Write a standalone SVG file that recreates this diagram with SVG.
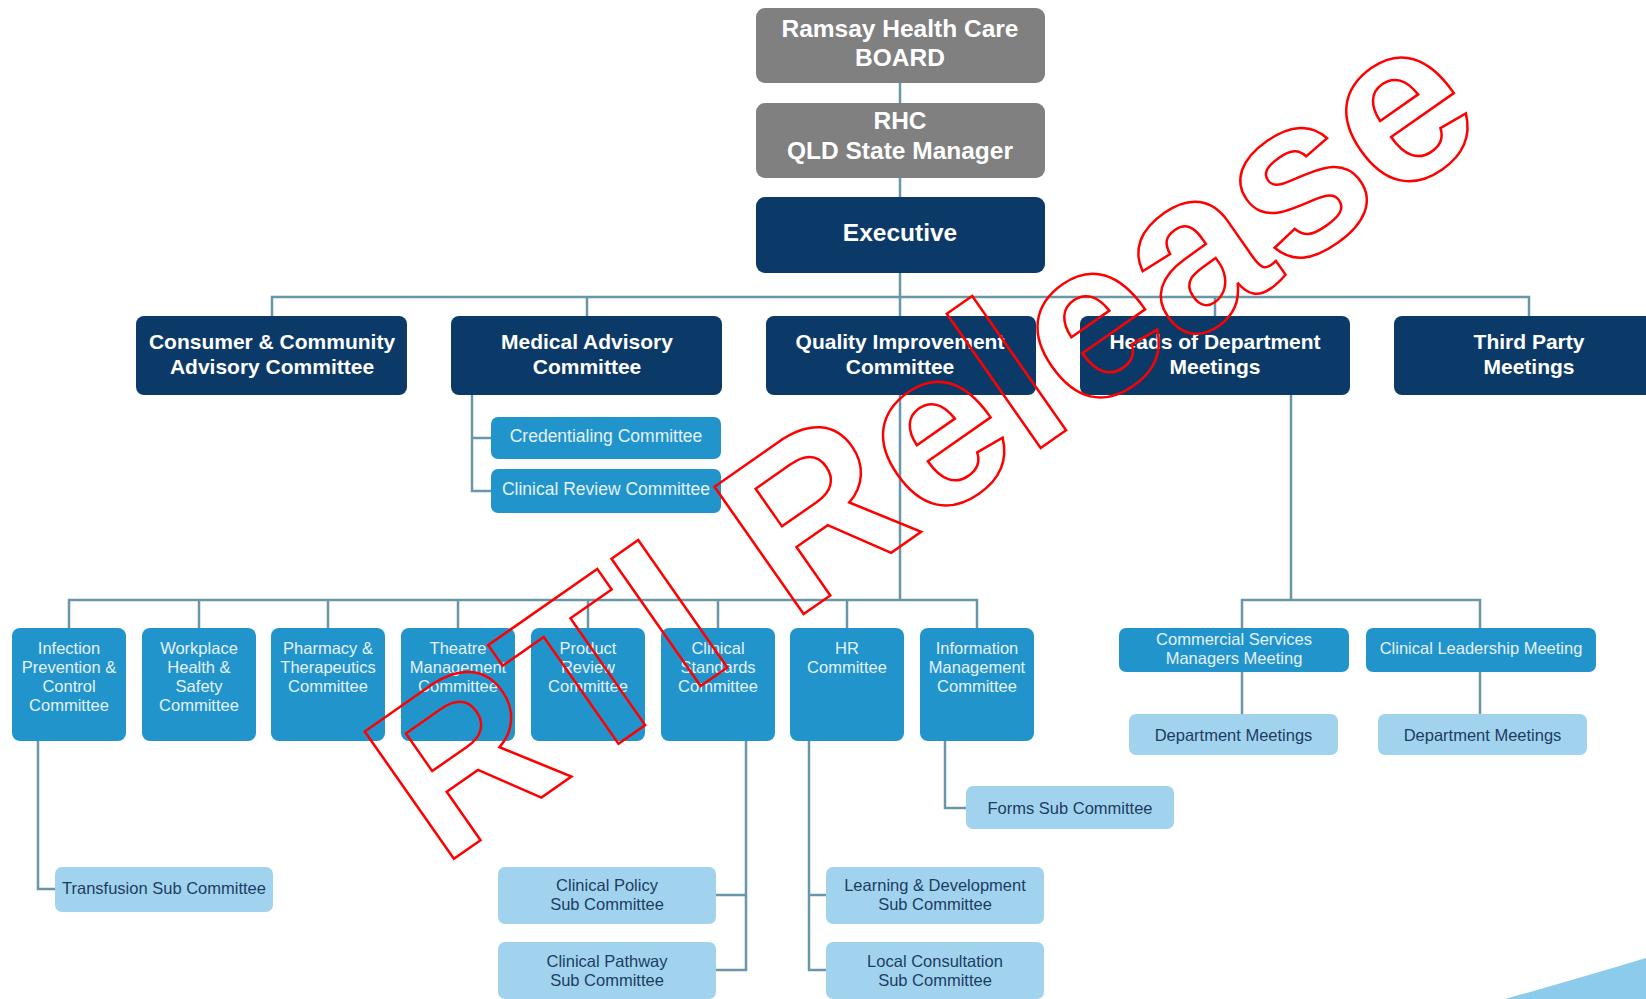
<svg xmlns="http://www.w3.org/2000/svg" width="1646" height="999" viewBox="0 0 1646 999">
<style>
.grey{fill:#808080}
.navy{fill:#0c3a68}
.mid{fill:#2294cc}
.light{fill:#a2d3ee}
.tw{font-family:"Liberation Sans",Arial,sans-serif;font-weight:bold;fill:#ffffff;text-anchor:middle}
.t1{font-size:24.5px}
.t2{font-size:21px}
.t3{font-family:"Liberation Sans",Arial,sans-serif;font-size:16.5px;fill:#e3f2fb;text-anchor:middle}
.t3b{font-family:"Liberation Sans",Arial,sans-serif;font-size:17.5px;fill:#e3f2fb;text-anchor:middle}
.t4{font-family:"Liberation Sans",Arial,sans-serif;font-size:16.5px;fill:#1c3d63;text-anchor:middle}
.conn{fill:none;stroke:#6797a8;stroke-width:2.5}
.wm{font-family:"Liberation Sans",Arial,sans-serif;font-weight:bold;font-size:226px;fill:none;stroke:#ff0000;stroke-width:2.5}
</style>
<rect width="1646" height="999" fill="#ffffff"/>
<path d="M1505,999 Q1580,978 1646,958 L1646,999 Z" fill="#8ccbec"/>

<g id="connectors" class="conn">
<path d="M900,83 V103 M900,178 V197 M900,273 V297"/>
<path d="M272,316 V297 H1529 V316 M587,297 V316 M900,297 V316 M1215,297 V316"/>
<path d="M472,395 V491 H491 M472,438 H491"/>
<path d="M900,395 V600"/>
<path d="M69,628 V600 H977 V628 M199,600 V628 M328,600 V628 M458,600 V628 M588,600 V628 M718,600 V628 M847,600 V628"/>
<path d="M1291,395 V600 M1242,628 V600 H1480 V628"/>
<path d="M1242,672 V714 M1480,672 V714"/>
<path d="M38,741 V889 H55"/>
<path d="M746,741 V970 H716 M746,895 H716"/>
<path d="M809,741 V970 H826 M809,895 H826"/>
<path d="M945,741 V808 H966"/>
</g>

<g id="board"><rect class="grey" x="756" y="8" width="289" height="75" rx="9"/>
<text class="tw t1" x="900" y="37">Ramsay Health Care</text><text class="tw t1" x="900" y="66">BOARD</text></g>
<g id="state-manager"><rect class="grey" x="756" y="103" width="289" height="75" rx="9"/>
<text class="tw t1" x="900" y="129">RHC</text><text class="tw t1" x="900" y="158.5">QLD State Manager</text></g>
<g id="executive"><rect class="navy" x="756" y="197" width="289" height="76" rx="9"/>
<text class="tw t1" x="900" y="241">Executive</text></g>

<g id="consumer"><rect class="navy" x="136" y="316" width="271" height="79" rx="8"/>
<text class="tw t2" x="272" y="349">Consumer &amp; Community</text><text class="tw t2" x="272" y="374">Advisory Committee</text></g>
<g id="medical"><rect class="navy" x="451" y="316" width="271" height="79" rx="8"/>
<text class="tw t2" x="587" y="349">Medical Advisory</text><text class="tw t2" x="587" y="374">Committee</text></g>
<g id="quality"><rect class="navy" x="766" y="316" width="270" height="79" rx="8"/>
<text class="tw t2" x="900" y="349">Quality Improvement</text><text class="tw t2" x="900" y="374">Committee</text></g>
<g id="heads"><rect class="navy" x="1080" y="316" width="270" height="79" rx="8"/>
<text class="tw t2" x="1215" y="349">Heads of Department</text><text class="tw t2" x="1215" y="374">Meetings</text></g>
<g id="third-party"><rect class="navy" x="1394" y="316" width="270" height="79" rx="8"/>
<text class="tw t2" x="1529" y="349">Third Party</text><text class="tw t2" x="1529" y="374">Meetings</text></g>

<g id="credentialing"><rect class="mid" x="491" y="417" width="230" height="42" rx="7"/>
<text class="t3b" x="606" y="442">Credentialing Committee</text></g>
<g id="clinical-review"><rect class="mid" x="491" y="469" width="230" height="44" rx="7"/>
<text class="t3b" x="606" y="495">Clinical Review Committee</text></g>

<g id="infection"><rect class="mid" x="12" y="628" width="114" height="113" rx="8"/>
<text class="t3" x="69" y="654">Infection</text><text class="t3" x="69" y="673">Prevention &amp;</text><text class="t3" x="69" y="691.5">Control</text><text class="t3" x="69" y="710.5">Committee</text></g>
<g id="workplace"><rect class="mid" x="142" y="628" width="114" height="113" rx="8"/>
<text class="t3" x="199" y="654">Workplace</text><text class="t3" x="199" y="673">Health &amp;</text><text class="t3" x="199" y="691.5">Safety</text><text class="t3" x="199" y="710.5">Committee</text></g>
<g id="pharmacy"><rect class="mid" x="271" y="628" width="114" height="113" rx="8"/>
<text class="t3" x="328" y="654">Pharmacy &amp;</text><text class="t3" x="328" y="673">Therapeutics</text><text class="t3" x="328" y="691.5">Committee</text></g>
<g id="theatre"><rect class="mid" x="401" y="628" width="114" height="113" rx="8"/>
<text class="t3" x="458" y="654">Theatre</text><text class="t3" x="458" y="673">Management</text><text class="t3" x="458" y="691.5">Committee</text></g>
<g id="product"><rect class="mid" x="531" y="628" width="114" height="113" rx="8"/>
<text class="t3" x="588" y="654">Product</text><text class="t3" x="588" y="673">Review</text><text class="t3" x="588" y="691.5">Committee</text></g>
<g id="clinical-standards"><rect class="mid" x="661" y="628" width="114" height="113" rx="8"/>
<text class="t3" x="718" y="654">Clinical</text><text class="t3" x="718" y="673">Standards</text><text class="t3" x="718" y="691.5">Committee</text></g>
<g id="hr"><rect class="mid" x="790" y="628" width="114" height="113" rx="8"/>
<text class="t3" x="847" y="654">HR</text><text class="t3" x="847" y="673">Committee</text></g>
<g id="information"><rect class="mid" x="920" y="628" width="114" height="113" rx="8"/>
<text class="t3" x="977" y="654">Information</text><text class="t3" x="977" y="673">Management</text><text class="t3" x="977" y="691.5">Committee</text></g>

<g id="commercial"><rect class="mid" x="1119" y="628" width="230" height="44" rx="7"/>
<text class="t3" x="1234" y="645">Commercial Services</text><text class="t3" x="1234" y="664">Managers Meeting</text></g>
<g id="clinical-leadership"><rect class="mid" x="1366" y="628" width="230" height="44" rx="7"/>
<text class="t3" x="1481" y="654">Clinical Leadership Meeting</text></g>
<g id="dept-meetings-1"><rect class="light" x="1129" y="714" width="209" height="41" rx="7"/>
<text class="t4" x="1233.5" y="741">Department Meetings</text></g>
<g id="dept-meetings-2"><rect class="light" x="1378" y="714" width="209" height="41" rx="7"/>
<text class="t4" x="1482.5" y="741">Department Meetings</text></g>

<g id="forms"><rect class="light" x="966" y="786" width="208" height="43" rx="7"/>
<text class="t4" x="1070" y="814">Forms Sub Committee</text></g>
<g id="transfusion"><rect class="light" x="55" y="867" width="218" height="45" rx="7"/>
<text class="t4" x="164" y="894">Transfusion Sub Committee</text></g>
<g id="clinical-policy"><rect class="light" x="498" y="867" width="218" height="57" rx="7"/>
<text class="t4" x="607" y="891">Clinical Policy</text><text class="t4" x="607" y="910">Sub Committee</text></g>
<g id="clinical-pathway"><rect class="light" x="498" y="942" width="218" height="57" rx="7"/>
<text class="t4" x="607" y="966.5">Clinical Pathway</text><text class="t4" x="607" y="986">Sub Committee</text></g>
<g id="learning"><rect class="light" x="826" y="867" width="218" height="57" rx="7"/>
<text class="t4" x="935" y="891">Learning &amp; Development</text><text class="t4" x="935" y="910">Sub Committee</text></g>
<g id="local-consultation"><rect class="light" x="826" y="942" width="218" height="57" rx="7"/>
<text class="t4" x="935" y="966.5">Local Consultation</text><text class="t4" x="935" y="986">Sub Committee</text></g>

<g id="watermark"><text class="wm" transform="translate(441.5,867.5) rotate(-35)" x="0" y="0">RTI Release</text></g>
</svg>
